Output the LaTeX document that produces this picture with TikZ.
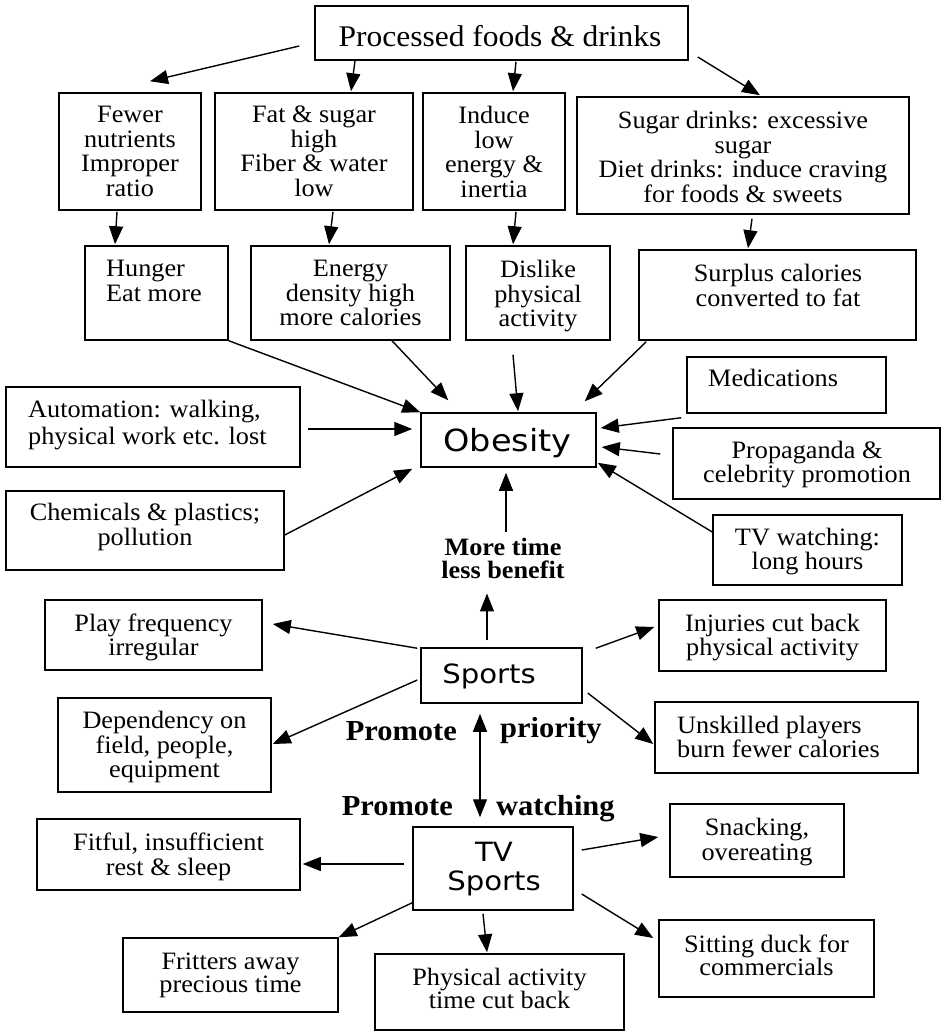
\documentclass[tikz,border=0pt]{standalone}
\usepackage{fontspec}
\setmainfont{Liberation Serif}[FakeStretch=1.05]
\newfontfamily\sansw{DejaVu Sans}[FakeStretch=1.1]
\usetikzlibrary{arrows.meta}
\newcommand\bodyf{\fontsize{25}{24.5}\selectfont}
\newcommand\boldf{\fontsize{25}{23}\selectfont\bfseries}
\newcommand\promf{\fontsize{29}{30}\selectfont\bfseries}
\tikzset{
  bx/.style={draw,line width=1.5pt,inner sep=0pt},
  txt/.style={inner sep=0pt,align=center,font=\bodyf,anchor=north},
  txtl/.style={inner sep=0pt,align=left,font=\bodyf,anchor=north west},
  arr/.style={line width=1.4pt,-{Triangle[length=18pt,width=14pt]}},
  arrb/.style={line width=1.4pt,{Triangle[length=18pt,width=14pt]}-{Triangle[length=18pt,width=14pt]}}
}
\begin{document}
\begin{tikzpicture}[x=1pt,y=-1pt]
\fill[white] (0,0) rectangle (941,1032);
\useasboundingbox (0,0) rectangle (941,1032);
% boxes
\node[bx,minimum width=373,minimum height=54] (proc) at (501.5,33) {};
\node[bx,minimum width=142,minimum height=117] (fewer) at (130,151.5) {};
\node[bx,minimum width=198,minimum height=117] (fat) at (314,151.5) {};
\node[bx,minimum width=142,minimum height=117] (induce) at (494,151.5) {};
\node[bx,minimum width=332,minimum height=117] (sugar) at (743,155.5) {};
\node[bx,minimum width=143,minimum height=94] (hunger) at (156.5,293) {};
\node[bx,minimum width=199,minimum height=94] (energy) at (350.5,293) {};
\node[bx,minimum width=144,minimum height=94] (dislike) at (538,293) {};
\node[bx,minimum width=277,minimum height=90] (surplus) at (777.5,295) {};
\node[bx,minimum width=294,minimum height=80] (auto) at (153,427) {};
\node[bx,minimum width=175,minimum height=54] (obesity) at (508.5,440) {};
\node[bx,minimum width=199,minimum height=56] (med) at (786.5,385) {};
\node[bx,minimum width=267,minimum height=71] (prop) at (806.5,463.5) {};
\node[bx,minimum width=189,minimum height=70] (tvw) at (807.5,550) {};
\node[bx,minimum width=278,minimum height=79] (chem) at (145,530.5) {};
\node[bx,minimum width=217,minimum height=70] (play) at (153.5,635) {};
\node[bx,minimum width=161,minimum height=55] (sports) at (501.5,675.5) {};
\node[bx,minimum width=227,minimum height=71] (inj) at (772.5,635.5) {};
\node[bx,minimum width=213,minimum height=94] (dep) at (164.5,745) {};
\node[bx,minimum width=263,minimum height=71] (unsk) at (786.5,737.5) {};
\node[bx,minimum width=160,minimum height=83] (tvs) at (493,868.5) {};
\node[bx,minimum width=263,minimum height=71] (fitful) at (168.5,854.5) {};
\node[bx,minimum width=174,minimum height=73] (snack) at (757,840.5) {};
\node[bx,minimum width=215,minimum height=74] (fritters) at (230.5,975) {};
\node[bx,minimum width=249,minimum height=76] (phys) at (499.5,992) {};
\node[bx,minimum width=215,minimum height=77] (sitting) at (766.5,958.5) {};
% texts
\node[inner sep=0pt,anchor=base,font=\fontsize{30}{32}\selectfont] (procT) at (500,47) {Processed foods \& drinks};
\node[txt] (fewerT) at (130,106) {Fewer\\nutrients\\Improper\\ratio};
\node[txt] (fatT) at (314,106) {Fat \& sugar\\high\\Fiber \& water\\low};
\node[txt] (induceT) at (494,106) {Induce\\low\\energy \&\\inertia};
\node[txt] (sugarT) at (743,111) {Sugar drinks: excessive\\sugar\\Diet drinks: induce craving\\for foods \& sweets};
\node[txtl] (hungerT) at (106,260) {Hunger\\Eat more};
\node[txt] (energyT) at (350.5,260) {Energy\\density high\\more calories};
\node[txt] (dislikeT) at (538,260) {Dislike\\physical\\activity};
\node[txt] (surplusT) at (778,264) {Surplus calories\\converted to fat};
\node[txtl,font=\fontsize{25}{26.5}\selectfont] (autoT) at (28,400) {Automation: walking,\\physical work etc. lost};
\node[inner sep=0pt,anchor=base west,font=\bodyf] (medT) at (708,386) {Medications};
\node[txt,font=\fontsize{25}{24}\selectfont] (propT) at (807,441) {Propaganda \&\\celebrity promotion};
\node[txt,font=\fontsize{25}{25}\selectfont] (chemT) at (145,503) {Chemicals \& plastics;\\pollution};
\node[txt,font=\fontsize{25}{24}\selectfont] (tvwT) at (807.5,528) {TV watching:\\long hours};
\node[txt,font=\fontsize{25}{24}\selectfont] (playT) at (153.5,614) {Play frequency\\irregular};
\node[txt] (depT) at (164.5,711) {Dependency on\\field, people,\\equipment};
\node[txt,font=\fontsize{25}{24}\selectfont] (injT) at (772.5,614) {Injuries cut back\\physical activity};
\node[txtl,font=\fontsize{25}{24}\selectfont] (unskT) at (677,716) {Unskilled players\\burn fewer calories};
\node[txt,font=\fontsize{25}{25}\selectfont] (fitfulT) at (168.5,833) {Fitful, insufficient\\rest \& sleep};
\node[txt,font=\fontsize{25}{25}\selectfont] (snackT) at (757,818) {Snacking,\\overeating};
\node[txt,font=\fontsize{25}{23}\selectfont] (frittersT) at (230.5,953) {Fritters away\\precious time};
\node[txt,font=\fontsize{25}{23}\selectfont] (physT) at (499.5,968) {Physical activity\\time cut back};
\node[txt,font=\fontsize{25}{23}\selectfont] (sittingT) at (766.5,935) {Sitting duck for\\commercials};
\node[inner sep=0pt,anchor=base,font=\sansw\fontsize{30.5}{32}\selectfont] (obesityT) at (507.5,451) {Obesity};
\node[inner sep=0pt,anchor=base,font=\sansw\fontsize{26.5}{28}\selectfont] (sportsT) at (489,683) {Sports};
\node[inner sep=0pt,anchor=north,align=center,font=\sansw\fontsize{26.5}{29}\selectfont] (tvsT) at (494,842) {TV\\Sports};
\node[inner sep=0pt,anchor=north,align=center,font=\boldf] (mt) at (503,537.5) {More time\\less benefit};
\node[inner sep=0pt,anchor=base east,font=\promf] (prom1) at (457,740) {Promote};
\node[inner sep=0pt,anchor=base west,font=\promf] (prio) at (500,737) {priority};
\node[inner sep=0pt,anchor=base east,font=\promf] (prom2) at (453,815) {Promote};
\node[inner sep=0pt,anchor=base west,font=\promf] (watch) at (496,815) {watching};
% connectors
\draw[arr] ([shift={(-15,13)}]proc.west) -- ([shift={(20,-11)}]fewer.north);
\draw[arr] ([shift={(-146.5,0)}]proc.south) -- ([shift={(37,-1)}]fat.north);
\draw[arr] ([shift={(14.5,1)}]proc.south) -- ([shift={(19,-1)}]induce.north);
\draw[arr] ([shift={(9,24)}]proc.east) -- ([shift={(17,-1)}]sugar.north);
\draw[arr] ([shift={(-13,1)}]fewer.south) -- ([shift={(-41.5,-1)}]hunger.north);
\draw[arr] ([shift={(19,1)}]fat.south) -- ([shift={(-21.5,-1)}]energy.north);
\draw[arr] ([shift={(22,1)}]induce.south) -- ([shift={(-25,-1)}]dislike.north);
\draw[arr] ([shift={(9,4)}]sugar.south) -- ([shift={(-29.5,-1)}]surplus.north);
\draw[arr] (hunger.south east) -- (obesity.north west);
\draw[arr] ([shift={(41.5,0)}]energy.south) -- ([shift={(28,-12)}]obesity.north west);
\draw[arr] ([shift={(-25,14)}]dislike.south) -- ([shift={(9.5,-1)}]obesity.north);
\draw[arr] ([shift={(8,1)}]surplus.south west) -- ([shift={(-12,-11)}]obesity.north east);
\draw[arr] ([shift={(7,2)}]auto.east) -- ([shift={(-8,-11)}]obesity.west);
\draw[arr] ([shift={(0,4.5)}]chem.east) -- ([shift={(-8,1)}]obesity.south west);
\draw[arr] ([shift={(-5,4)}]med.south west) -- ([shift={(4,-12)}]obesity.east);
\draw[arr] ([shift={(-12,-9.5)}]prop.west) -- ([shift={(5,7)}]obesity.east);
\draw[arr] ([shift={(0,-18)}]tvw.west) -- ([shift={(1,-5)}]obesity.south east);
\draw[arr] ([shift={(3,-5.5)}]mt.north) -- ([shift={(-2.5,5)}]obesity.south);
\draw[arr] ([shift={(-14.5,-7)}]sports.north) -- ([shift={(-16,15)}]mt.south);
\draw[arr] ([shift={(-3,1)}]sports.north west) -- ([shift={(10,-11)}]play.east);
\draw[arr] ([shift={(-3,4.5)}]sports.west) -- ([shift={(1,-1)}]dep.east);
\draw[arr] ([shift={(13,1)}]sports.north east) -- ([shift={(-4,-8.5)}]inj.west);
\draw[arr] ([shift={(5,17.5)}]sports.east) -- ([shift={(-1,6.5)}]unsk.west);
\draw[arrb] ([shift={(-21.5,10)}]sports.south) -- ([shift={(-13,-9)}]tvs.north);
\draw[arr] ([shift={(-8,-4.5)}]tvs.west) -- ([shift={(2,9.5)}]fitful.east);
\draw[arr] ([shift={(0,-8)}]tvs.south west) -- (fritters.north east);
\draw[arr] ([shift={(-10,3)}]tvs.south) -- ([shift={(-12.5,-1)}]phys.north);
\draw[arr] ([shift={(8,-18.5)}]tvs.east) -- ([shift={(-11,-3.5)}]snack.west);
\draw[arr] ([shift={(8,25.5)}]tvs.east) -- ([shift={(-5,-20.5)}]sitting.west);
\end{tikzpicture}
\end{document}
